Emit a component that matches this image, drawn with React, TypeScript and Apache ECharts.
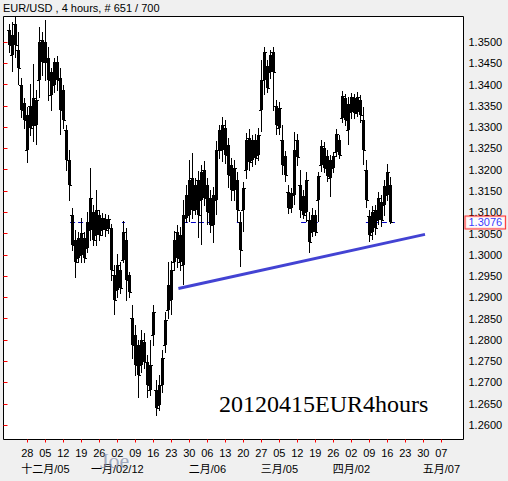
import React, { useEffect, useRef } from "react";
import * as echarts from "echarts";

// ---------- data ----------
const TITLE = "EUR/USD , 4 hours, # 651 / 700";
const WATERMARK = "20120415EUR4hours";
const SIGNATURE = "Joe";
const LAST_PRICE = 1.3076;
const FIRST_SLOT = 2; // first bar slot on the x scale

const opens = [
  1.3528, 1.3469, 1.3542, 1.3481, 1.3399, 1.3357, 1.3246, 1.335, 1.3305, 1.3305,
  1.3411, 1.3505, 1.35, 1.3462, 1.3375, 1.3399, 1.3453, 1.3415, 1.3387, 1.3293,
  1.3223, 1.3093, 1.3035, 1.2992, 1.2999, 1.3039, 1.3016, 1.3058, 1.31, 1.3046,
  1.3093, 1.3058, 1.3084, 1.3063, 1.3063, 1.2952, 1.2917, 1.2964, 1.2988, 1.3035,
  1.2952, 1.2851, 1.2811, 1.2788, 1.2741, 1.2795, 1.2748, 1.2682, 1.2811, 1.2682,
  1.2647, 1.2694, 1.2788, 1.287, 1.2894, 1.2983, 1.3054, 1.2983, 1.2976, 1.3086,
  1.3093, 1.318, 1.3105, 1.3176, 1.3129, 1.3199, 1.3164, 1.3133, 1.307, 1.3129,
  1.3246, 1.3246, 1.3298, 1.3258, 1.3211, 1.3152, 1.3176, 1.3077, 1.3105, 1.3199,
  1.3274, 1.3223, 1.327, 1.3234, 1.334, 1.3411, 1.3444, 1.343, 1.3476, 1.335,
  1.3298, 1.327, 1.3232, 1.3148, 1.311, 1.314, 1.327, 1.3164, 1.3138, 1.31,
  1.3082, 1.3054, 1.3093, 1.3129, 1.3211, 1.3251, 1.3232, 1.318, 1.3204, 1.3241,
  1.327, 1.3321, 1.3368, 1.3293, 1.3335, 1.3368, 1.3335, 1.3364, 1.3317, 1.3199,
  1.3091, 1.3054, 1.3105, 1.3082, 1.3124, 1.3117, 1.314, 1.3164,
];
const highs = [
  1.3542, 1.3547, 1.3559, 1.3523, 1.3415, 1.3368, 1.3347, 1.3401, 1.3448, 1.3387,
  1.3535, 1.3523, 1.3552, 1.3488, 1.3439, 1.3462, 1.3467, 1.3439, 1.3399, 1.3305,
  1.3246, 1.311, 1.3058, 1.3054, 1.3086, 1.3054, 1.31, 1.3204, 1.3117, 1.3152,
  1.3105, 1.3098, 1.3096, 1.3093, 1.3072, 1.2976, 1.3002, 1.2983, 1.3079, 1.3063,
  1.2959, 1.2882, 1.2835, 1.28, 1.2823, 1.2816, 1.2764, 1.28, 1.2882, 1.2706,
  1.2718, 1.2776, 1.2866, 1.2983, 1.2985, 1.3056, 1.307, 1.3065, 1.3129, 1.3164,
  1.3223, 1.3239, 1.318, 1.3197, 1.3211, 1.322, 1.318, 1.3152, 1.3159, 1.3267,
  1.3305, 1.3324, 1.3317, 1.3274, 1.3227, 1.3223, 1.3195, 1.31, 1.3171, 1.3286,
  1.3296, 1.3281, 1.3284, 1.3298, 1.3458, 1.3488, 1.3458, 1.3481, 1.3488, 1.3364,
  1.3359, 1.3305, 1.3244, 1.3164, 1.3157, 1.3288, 1.3284, 1.3199, 1.3152, 1.3195,
  1.31, 1.311, 1.3105, 1.3195, 1.327, 1.3265, 1.3246, 1.3234, 1.3241, 1.3296,
  1.3281, 1.3385, 1.3378, 1.3371, 1.338, 1.3378, 1.3382, 1.3375, 1.3347, 1.3223,
  1.3105, 1.3115, 1.3117, 1.3148, 1.314, 1.3176, 1.3213, 1.3183,
];
const lows = [
  1.3476, 1.3432, 1.3465, 1.3401, 1.3324, 1.3298, 1.3218, 1.3281, 1.3267, 1.326,
  1.3371, 1.3422, 1.3411, 1.3364, 1.334, 1.3382, 1.3387, 1.3284, 1.3298, 1.3199,
  1.3129, 1.3011, 1.2948, 1.2983, 1.2983, 1.2983, 1.3006, 1.3035, 1.3023, 1.3023,
  1.3035, 1.3046, 1.3044, 1.3051, 1.2941, 1.2861, 1.2901, 1.291, 1.2983, 1.2894,
  1.2901, 1.2757, 1.2718, 1.2666, 1.2724, 1.2734, 1.2666, 1.267, 1.2788, 1.2623,
  1.2635, 1.2678, 1.2772, 1.2851, 1.2861, 1.2964, 1.2971, 1.2964, 1.2931, 1.3077,
  1.3079, 1.3086, 1.3096, 1.3042, 1.3025, 1.3117, 1.3072, 1.3054, 1.303, 1.3096,
  1.3227, 1.322, 1.3216, 1.3159, 1.3129, 1.3129, 1.3079, 1.2974, 1.3056, 1.318,
  1.3199, 1.3209, 1.3213, 1.3223, 1.3291, 1.3378, 1.3382, 1.3415, 1.334, 1.3284,
  1.3284, 1.319, 1.3173, 1.3098, 1.31, 1.3119, 1.3211, 1.3089, 1.3086, 1.3079,
  1.3006, 1.3044, 1.3046, 1.3079, 1.3197, 1.3195, 1.3173, 1.3138, 1.3195, 1.3232,
  1.3227, 1.3312, 1.3305, 1.326, 1.3321, 1.3321, 1.3326, 1.3312, 1.3213, 1.3112,
  1.3032, 1.3037, 1.3049, 1.3072, 1.3068, 1.3093, 1.3129, 1.3074,
];
const closes = [
  1.3493, 1.3516, 1.3493, 1.3439, 1.334, 1.3317, 1.3328, 1.3298, 1.3368, 1.3364,
  1.35, 1.3453, 1.3453, 1.3411, 1.343, 1.3453, 1.3411, 1.334, 1.3317, 1.3223,
  1.3164, 1.3023, 1.2983, 1.3039, 1.3051, 1.2992, 1.3077, 1.3133, 1.3035, 1.3105,
  1.3046, 1.3086, 1.3058, 1.3084, 1.2964, 1.2894, 1.2976, 1.2922, 1.3054, 1.2941,
  1.2913, 1.2788, 1.2741, 1.2718, 1.28, 1.2748, 1.2694, 1.2741, 1.2866, 1.264,
  1.2694, 1.2757, 1.2847, 1.2929, 1.2964, 1.3035, 1.2992, 1.3046, 1.3093, 1.314,
  1.3176, 1.3105, 1.3164, 1.3093, 1.3195, 1.3133, 1.31, 1.307, 1.314, 1.3246,
  1.3293, 1.3305, 1.3234, 1.3187, 1.3152, 1.3204, 1.3105, 1.3011, 1.3157, 1.327,
  1.3218, 1.327, 1.3227, 1.3281, 1.3411, 1.3476, 1.3392, 1.3469, 1.343, 1.3305,
  1.3345, 1.3211, 1.3187, 1.311, 1.3145, 1.3246, 1.323, 1.3105, 1.3093, 1.3176,
  1.303, 1.3093, 1.3054, 1.3185, 1.3256, 1.3204, 1.3185, 1.3223, 1.3232, 1.3284,
  1.3234, 1.3373, 1.3317, 1.3354, 1.3371, 1.3333, 1.3371, 1.3328, 1.3246, 1.3129,
  1.3046, 1.31, 1.3063, 1.3133, 1.3082, 1.3162, 1.3195, 1.3076,
];

// trend line: [slot, price]
const trendLine = [
  [58.3, 1.2921],
  [140.5, 1.3048],
];
// visible pieces of the dashed bid line: [fromSlot, toSlot]
const bidSegments = [
  [22.2, 35.5],
  [39.5, 40.5],
  [59.8, 70.5],
  [77.8, 79.5],
  [99.2, 104.8],
  [120.8, 130.5],
];

const yTickLabels = [
  "1.2600", "1.2650", "1.2700", "1.2750", "1.2800", "1.2850", "1.2900", "1.2950", "1.3000", "1.3050",
  "1.3100", "1.3150", "1.3200", "1.3250", "1.3300", "1.3350", "1.3400", "1.3450", "1.3500",
];
const dayLabels = [
  "28", "05", "12", "19", "26", "02", "09", "16", "23", "30", "06", "13",
  "20", "27", "05", "12", "19", "26", "02", "09", "16", "23", "30", "07",
];
// week index -> month label
const monthWeeks = [1, 5, 10, 14, 18, 23];
const monthLabels = ["十二月/05", "一月/02/12", "二月/06", "三月/05", "四月/02", "五月/07"];

// ---------- layout ----------
const W = 508;
const H = 481;
const GRID_LEFT = 3.5;
const GRID_TOP = 16.5;
const GRID_W = 460;
const GRID_H = 423;
const SLOT_PX = 3;
const X_MAX = GRID_W / SLOT_PX;
const Y_MIN = 1.2566;
const Y_MAX = 1.356;
const WEEK_FIRST = 7.95;
const WEEK_SLOTS = 6;
const FONT = '"Liberation Sans", Arial, "Noto Sans CJK SC", sans-serif';

const weekTicks = dayLabels.map((_, k) => WEEK_FIRST + WEEK_SLOTS * k);
const monthTicks = monthWeeks.map((k) => weekTicks[k]);
const yTickValues = yTickLabels.map(Number);

export default function App() {
  const ref = useRef<HTMLDivElement | null>(null);

  useEffect(() => {
    if (!ref.current) return;
    const chart = echarts.init(ref.current, undefined, { renderer: "svg" });

    const barData = opens.map((o, i) => [i + FIRST_SLOT, o, highs[i], lows[i], closes[i]]);

    const renderBar = (_params: any, api: any) => {
      const slot = api.value(0);
      const pO = api.coord([slot, api.value(1)]);
      const pH = api.coord([slot, api.value(2)]);
      const pL = api.coord([slot, api.value(3)]);
      const pC = api.coord([slot, api.value(4)]);
      const cx = Math.floor(pO[0]) + 0.5;
      const top = Math.round(Math.min(pO[1], pC[1]));
      const bot = Math.round(Math.max(pO[1], pC[1]));
      const yo = Math.round(pO[1]) + 0.5;
      const yc = Math.round(pC[1]) + 0.5;
      const st = { stroke: "#000", lineWidth: 1 };
      return {
        type: "group",
        children: [
          { type: "line", shape: { x1: cx, y1: Math.round(pH[1]), x2: cx, y2: Math.round(pL[1]) + 1 }, style: st },
          { type: "rect", shape: { x: cx - 1.5, y: top, width: 3, height: Math.max(1, bot - top) }, style: { fill: "#000" } },
          { type: "line", shape: { x1: cx - 2.5, y1: yo, x2: cx, y2: yo }, style: st },
          { type: "line", shape: { x1: cx, y1: yc, x2: cx + 2.5, y2: yc }, style: st },
        ],
      };
    };

    const renderBid = (_params: any, api: any) => {
      const a = api.coord([api.value(0), LAST_PRICE]);
      const b = api.coord([api.value(1), LAST_PRICE]);
      const y = Math.floor(a[1]) + 0.5;
      return {
        type: "line",
        shape: { x1: a[0], y1: y, x2: b[0], y2: y },
        style: { stroke: "#0000C8", lineWidth: 1, lineDash: [5, 3] },
      };
    };

    const labelBase = { fontSize: 11, color: "#000", fontFamily: FONT, showMinLabel: true, showMaxLabel: true, hideOverlap: false };

    chart.setOption({
      animation: false,
      backgroundColor: "#F0F0F0",
      title: {
        text: TITLE,
        left: 3,
        top: 2,
        padding: 0,
        textStyle: { fontSize: 11, fontWeight: "normal", color: "#000", fontFamily: FONT },
      },
      grid: {
        left: GRID_LEFT,
        top: GRID_TOP,
        width: GRID_W,
        height: GRID_H,
        show: true,
        backgroundColor: "#fff",
        borderColor: "#000",
        borderWidth: 1,
        containLabel: false,
        outerBoundsMode: "none",
      },
      xAxis: [
        {
          type: "value",
          min: 0,
          max: X_MAX,
          axisLine: { show: false },
          splitLine: { show: false },
          axisTick: { show: true, customValues: weekTicks, length: 3, lineStyle: { color: "#FF0000" } },
          axisLabel: {
            ...labelBase,
            customValues: weekTicks,
            margin: 8,
            formatter: (v: number) => dayLabels[Math.round((v - WEEK_FIRST) / WEEK_SLOTS)],
          },
        },
        {
          type: "value",
          position: "bottom",
          min: 0,
          max: X_MAX,
          axisLine: { show: false },
          splitLine: { show: false },
          axisTick: { show: false },
          axisLabel: {
            ...labelBase,
            customValues: monthTicks,
            margin: 24,
            formatter: (v: number) => {
              const idx = monthTicks.findIndex((t) => Math.abs(t - v) < 0.01);
              return idx >= 0 ? monthLabels[idx] : "";
            },
          },
        },
      ],
      yAxis: {
        type: "value",
        position: "right",
        min: Y_MIN,
        max: Y_MAX,
        axisLine: { show: false },
        splitLine: { show: false },
        axisTick: { show: true, customValues: yTickValues, length: 4, lineStyle: { color: "#FF0000" } },
        axisLabel: {
          ...labelBase,
          customValues: yTickValues,
          margin: 5,
          formatter: (v: number) => v.toFixed(4),
        },
      },
      series: [
        {
          type: "custom",
          name: "bid",
          renderItem: renderBid,
          data: bidSegments,
          encode: { x: [0, 1] },
          z: 1,
          silent: true,
        },
        {
          type: "custom",
          name: "EURUSD",
          renderItem: renderBar,
          data: barData,
          encode: { x: 0, y: [1, 2, 3, 4] },
          z: 2,
          silent: true,
        },
        {
          type: "line",
          name: "trend",
          data: trendLine,
          symbol: "none",
          lineStyle: { color: "#4343D3", width: 3 },
          z: 3,
          silent: true,
        },
        {
          type: "scatter",
          name: "price",
          data: [[160.6, LAST_PRICE]],
          symbolSize: 0.1,
          clip: false,
          z: 4,
          silent: true,
          label: {
            show: true,
            position: "inside",
            formatter: () => LAST_PRICE.toFixed(4),
            color: "#0000FF",
            fontSize: 11,
            fontFamily: FONT,
            backgroundColor: "#FFFFFF",
            borderColor: "#FF0000",
            borderWidth: 1,
            padding: [1, 3, 0, 3],
            lineHeight: 11,
          },
        },
      ],
      graphic: [
        {
          type: "text",
          x: 219,
          y: 404,
          style: {
            text: WATERMARK,
            fontSize: 24,
            fontFamily: '"Liberation Serif", "Times New Roman", serif',
            fill: "#000",
            verticalAlign: "middle",
            align: "left",
          },
          z: 10,
        },
        {
          type: "text",
          x: 100,
          y: 460,
          style: {
            text: SIGNATURE,
            fontSize: 22,
            fontFamily: '"Liberation Serif", "Times New Roman", serif',
            fill: "rgba(125,138,170,0.7)",
            verticalAlign: "middle",
            align: "left",
          },
          z: 10,
        },
      ],
    });

    return () => chart.dispose();
  }, []);

  return (
    <div
      ref={ref}
      style={{ position: "fixed", left: 0, top: 0, width: W, height: H }}
    />
  );
}
